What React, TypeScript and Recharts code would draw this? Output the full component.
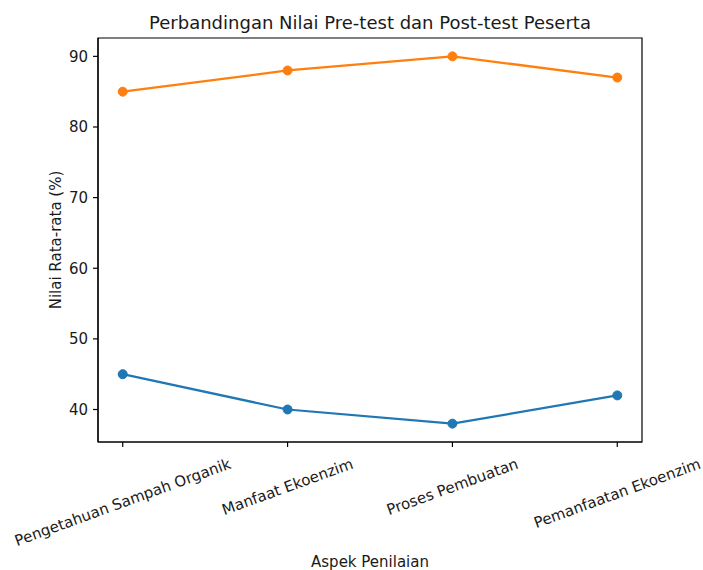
import React from "react";
import { LineChart, Line, XAxis, YAxis, ReferenceArea } from "recharts";

const categories = [
  "Pengetahuan Sampah Organik",
  "Manfaat Ekoenzim",
  "Proses Pembuatan",
  "Pemanfaatan Ekoenzim",
];
const preTest = [45, 40, 38, 42];
const postTest = [85, 88, 90, 87];
const yTicks = [40, 50, 60, 70, 80, 90];
const xTicks = [0, 1, 2, 3];

const data = categories.map((c, i) => ({ idx: i, name: c, pre: preTest[i], post: postTest[i] }));

const FONT = "DejaVu Sans";
const TICK_FS = 15;
const W = 703;
const H = 570;
const M = { top: 38, right: 61, left: 0, bottom: 0 };
const Y_W = 98;
const X_H = 128;
const X_DOMAIN: [number, number] = [-0.15, 3.15];
const Y_DOMAIN: [number, number] = [35.4, 92.6];

let ctx: CanvasRenderingContext2D | null = null;
const measure = (t: string, fs: number) => {
  if (!ctx) ctx = document.createElement("canvas").getContext("2d");
  if (!ctx) return t.length * fs * 0.6;
  ctx.font = `${fs}px "${FONT}"`;
  return ctx.measureText(t).width;
};

const XTick = (props: any) => {
  const { x, y, payload } = props;
  const label = categories[payload.value] ?? "";
  const w = measure(label, TICK_FS);
  const h = TICK_FS * 1.17;
  const a = (20 * Math.PI) / 180;
  const bh = w * Math.sin(a) + h * Math.cos(a);
  const cy = y + 6 + bh / 2;
  return (
    <text
      x={x}
      y={cy}
      textAnchor="middle"
      dominantBaseline="central"
      transform={`rotate(-20 ${x} ${cy})`}
      fontFamily={FONT}
      fontSize={TICK_FS}
      fill="#1a1a1a"
    >
      {label}
    </text>
  );
};

const YLabel = (props: any) => {
  const vb = props.viewBox || {};
  const cx = vb.x + 56;
  const cy = vb.y + vb.height / 2;
  return (
    <text
      x={cx}
      y={cy}
      textAnchor="middle"
      dominantBaseline="central"
      transform={`rotate(-90 ${cx} ${cy})`}
      fontFamily={FONT}
      fontSize={15}
      fill="#1a1a1a"
    >
      Nilai Rata-rata (%)
    </text>
  );
};

const XLabel = (props: any) => {
  const vb = props.viewBox || {};
  const cx = vb.x + vb.width / 2;
  const cy = vb.y + 120;
  return (
    <text x={cx} y={cy} textAnchor="middle" dominantBaseline="central" fontFamily={FONT} fontSize={15} fill="#1a1a1a">
      Aspek Penilaian
    </text>
  );
};

export default function App() {
  const plotCx = Y_W + M.left + (W - Y_W - M.left - M.right) / 2;
  return (
    <div style={{ position: "absolute", left: 0, top: 0, width: W, height: H, background: "#fff" }}>
      <LineChart width={W} height={H} data={data} margin={M}>
        <XAxis
          dataKey="idx"
          type="number"
          domain={X_DOMAIN}
          ticks={xTicks}
          allowDataOverflow
          height={X_H}
          interval={0}
          tick={<XTick />}
          tickSize={5}
          tickLine={{ stroke: "#000", strokeWidth: 1.2 }}
          axisLine={{ stroke: "#000", strokeWidth: 1.2 }}
          label={<XLabel />}
        />
        <YAxis
          type="number"
          domain={Y_DOMAIN}
          ticks={yTicks}
          allowDataOverflow
          width={Y_W}
          tickSize={5}
          tickMargin={5}
          tick={{ fontFamily: FONT, fontSize: TICK_FS, fill: "#1a1a1a" }}
          tickLine={{ stroke: "#000", strokeWidth: 1.2 }}
          axisLine={{ stroke: "#000", strokeWidth: 1.2 }}
          label={<YLabel />}
        />
        <ReferenceArea
          x1={X_DOMAIN[0]}
          x2={X_DOMAIN[1]}
          y1={Y_DOMAIN[0]}
          y2={Y_DOMAIN[1]}
          fill="none"
          fillOpacity={0}
          stroke="#000"
          strokeWidth={1.2}
          strokeOpacity={1}
          ifOverflow="visible"
        />
        <Line
          dataKey="pre"
          stroke="#1f77b4"
          strokeWidth={2.25}
          dot={{ r: 4.5, fill: "#1f77b4", stroke: "#1f77b4", strokeWidth: 1 }}
          activeDot={false}
          isAnimationActive={false}
        />
        <Line
          dataKey="post"
          stroke="#ff7f0e"
          strokeWidth={2.25}
          dot={{ r: 4.5, fill: "#ff7f0e", stroke: "#ff7f0e", strokeWidth: 1 }}
          activeDot={false}
          isAnimationActive={false}
        />
      </LineChart>
      <svg width={W} height={H} style={{ position: "absolute", left: 0, top: 0, pointerEvents: "none" }}>
        <text x={plotCx} y={29} textAnchor="middle" fontFamily={FONT} fontSize={18} fill="#1a1a1a">
          Perbandingan Nilai Pre-test dan Post-test Peserta
        </text>
      </svg>
    </div>
  );
}
